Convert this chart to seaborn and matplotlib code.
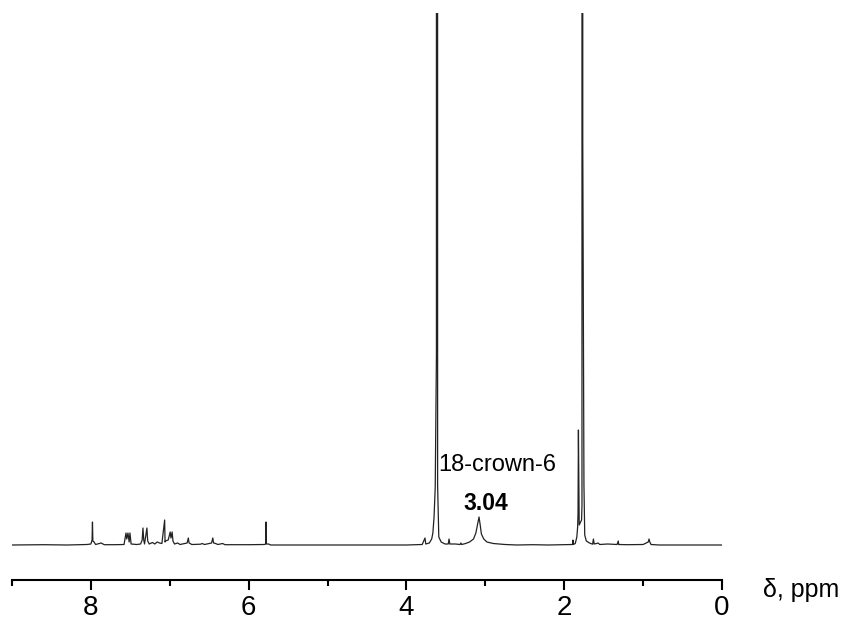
import matplotlib
matplotlib.use("Agg")
import matplotlib.pyplot as plt
import seaborn as sns
import pandas as pd
import numpy as np

# Spectrum points (ppm, intensity in arbitrary units)
ppm = [9.00, 8.60, 8.30, 8.05, 8.00, 7.985, 7.98, 7.975, 7.96, 7.94, 7.87, 7.83,
       7.70, 7.58, 7.555, 7.545, 7.53, 7.515, 7.505, 7.49, 7.42, 7.37, 7.35, 7.34,
       7.33, 7.32, 7.29, 7.28, 7.26, 7.22, 7.19, 7.16, 7.13, 7.10, 7.065, 7.06,
       7.055, 7.02, 6.995, 6.985, 6.97, 6.96, 6.94, 6.90, 6.87, 6.78, 6.765, 6.755,
       6.72, 6.61, 6.59, 6.56, 6.47, 6.455, 6.445, 6.42, 6.39, 6.33, 6.30, 6.00,
       5.80, 5.785, 5.78, 5.775, 5.75, 5.72, 4.00, 3.80, 3.765, 3.755, 3.71, 3.68,
       3.665, 3.65, 3.635, 3.62, 3.61, 3.605, 3.59, 3.56, 3.51, 3.47, 3.46, 3.45,
       3.38, 3.32, 3.31, 3.30, 3.25, 3.20, 3.15, 3.12, 3.10, 3.08, 3.065, 3.05,
       3.02, 2.98, 2.90, 2.75, 2.60, 2.40, 2.20, 1.95, 1.895, 1.89, 1.885, 1.86,
       1.84, 1.83, 1.825, 1.82, 1.81, 1.78, 1.775, 1.77, 1.765, 1.75, 1.74, 1.72,
       1.70, 1.68, 1.64, 1.63, 1.62, 1.59, 1.57, 1.55, 1.45, 1.33, 1.315, 1.31,
       1.305, 1.20, 1.00, 0.935, 0.925, 0.915, 0.90, 0.80, 0.00]
intensity = [0, 0.3, 0, 0.5, 1, 5, 23, 4, 3, 0.5, 2, 0.3,
             0.3, 0.5, 12, 6, 12, 3, 12, 1, 0.5, 1, 5, 17,
             5, 1, 17, 4, 1, 2.5, 1, 3, 2, 1.5, 25, 3,
             4, 5, 13, 7, 13, 4, 1, 2, 0.5, 2, 7, 2,
             0.5, 0.8, 1.5, 0.5, 2, 7, 2, 1.5, 0.5, 1.5, 0.3, 0.3,
             0.5, 1, 23, 1, 1, 0, 0, 0.5, 7, 1, 2, 6,
             12, 28, 58, 190, 30000, 60, 8, 3, 1, 1, 6, 1,
             1, 0.5, 2, 0.5, 1.5, 3, 6, 12, 20, 28, 20, 11,
             6, 3, 1.5, 0.5, 0, 0.3, 0, 0.5, 0.5, 5, 0.5, 1.5,
             8, 18, 32, 115, 20, 25, 40, 30000, 405, 60, 10, 4,
             3, 2, 0.8, 6, 1, 1.5, 2, 0.5, 1, 0.5, 4, 0.5,
             0.5, 0.3, 0.5, 3, 6, 3, 0.5, 0, 0]

xticks = [8, 6, 4, 2, 0]
xtick_labels = ["8", "6", "4", "2", "0"]

df = pd.DataFrame({"ppm": ppm, "intensity": intensity})

plt.rcParams["font.family"] = ["Liberation Sans", "DejaVu Sans"]
fig = plt.figure(figsize=(8.44, 6.24), dpi=100)
ax = fig.add_axes([12 / 844, 1 - 580 / 624, 710 / 844, (580 - 13) / 624])

sns.lineplot(data=df, x="ppm", y="intensity", ax=ax, color="#222222",
             linewidth=0.9, estimator=None, sort=False)

ax.set_xlim(9.0, 0.0)
ax.set_ylim(-35, 532)
ax.set_xticks(xticks)
ax.set_xticklabels(xtick_labels)
ax.set_xticks([9, 7, 5, 3, 1], minor=True)
ax.set_yticks([])
ax.set_xlabel("")
ax.set_ylabel("")
for s in ["top", "left", "right"]:
    ax.spines[s].set_visible(False)
ax.spines["bottom"].set_linewidth(1.5)
ax.tick_params(axis="x", which="major", length=7, width=1.5, labelsize=20, pad=4, direction="out")
ax.tick_params(axis="x", which="minor", length=4.5, width=1.5, direction="out")

ax.text(2.85, 80, "18-crown-6", fontsize=17, ha="center", va="center")
ax.text(2.99, 42, "3.04", fontsize=16.5, fontweight="bold", ha="center", va="center")

fig.text(801 / 844, 1 - 590 / 624, "δ, ppm", fontsize=18, ha="center", va="center")

fig.savefig("out.png", dpi=100)
